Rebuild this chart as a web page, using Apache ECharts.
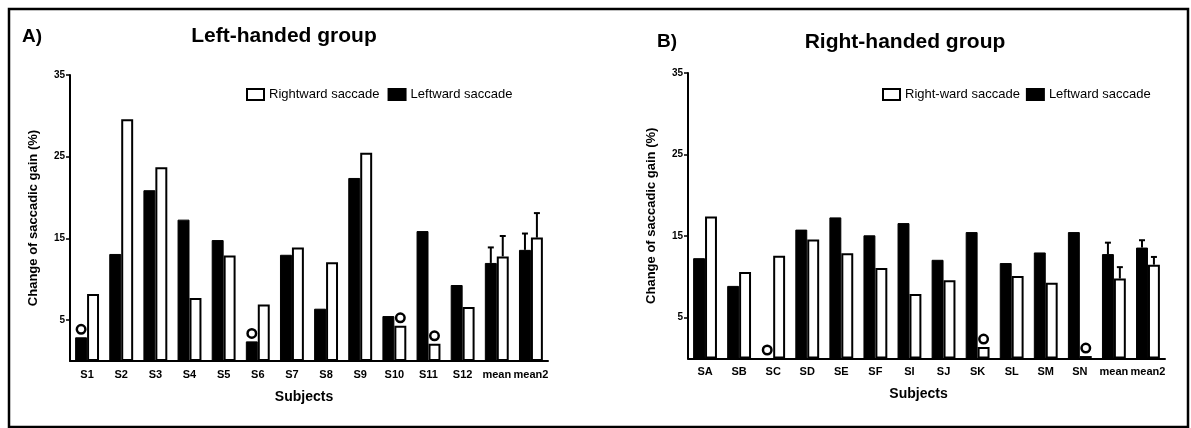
<!DOCTYPE html>
<html>
<head>
<meta charset="utf-8">
<script src="https://cdn.jsdelivr.net/npm/echarts@6/dist/echarts.min.js"></script>
<style>
html,body{margin:0;padding:0;background:#fff;}
#c{width:1191px;height:428px;}
</style>
</head>
<body>
<div id="c"></div>
<script>
// ---- Data ----
const leftCategories = ['S1','S2','S3','S4','S5','S6','S7','S8','S9','S10','S11','S12','mean','mean2'];
const leftRightward = [8.2, 29.6, 23.7, 7.7, 12.9, 6.9, 13.9, 12.1, 25.5, 4.3, 2.1, 6.6, 12.8, 15.1];
const leftLeftward  = [2.9, 13.1, 20.9, 17.3, 14.8, 2.4, 13.0, 6.4, 22.4, 5.5, 15.9, 9.3, 12.0, 13.6];
const leftErrRightward = {mean: 2.5, mean2: 3.0};
const leftErrLeftward  = {mean: 1.9, mean2: 2.0};
const leftOutlierLeftward  = ['S1','S6'];
const leftOutlierRightward = ['S10','S11'];

const rightCategories = ['SA','SB','SC','SD','SE','SF','SI','SJ','SK','SL','SM','SN','mean','mean2'];
const rightRightward = [17.4, 10.6, 12.6, 14.6, 12.9, 11.1, 7.9, 9.6, 1.4, 10.1, 9.3, 0.3, 9.8, 11.5];
const rightLeftward  = [12.3, 8.9, 0, 15.8, 17.3, 15.1, 16.6, 12.1, 15.5, 11.7, 13.0, 15.5, 12.8, 13.6];
const rightErrRightward = {mean: 1.4, mean2: 0.95};
const rightErrLeftward  = {mean: 1.4, mean2: 0.9};
const rightOutlierLeftward  = ['SC'];
const rightOutlierRightward = ['SK','SN'];

const yTicks = [5, 15, 25, 35];
const FONT = "'Liberation Sans', Arial, sans-serif";

// ---- Helpers ----
function withOutliers(cats, vals, marks) {
  return vals.map((v, i) => marks.includes(cats[i])
    ? {value: v, label: {show: true, position: 'top', distance: 5, formatter: '',
        width: 6, height: 6, padding: 0, borderRadius: 6,
        borderColor: '#000', borderWidth: 2.5, backgroundColor: '#fff'}}
    : v);
}
function errData(cats, vals, errs) {
  return Object.keys(errs).map(k => {
    const i = cats.indexOf(k);
    return [i, vals[i], vals[i] + errs[k]];
  });
}
function errSeries(idx, data, side) {
  return {
    type: 'custom', xAxisIndex: idx, yAxisIndex: idx, z: 5, silent: true,
    data: data,
    renderItem: function (params, api) {
      const w = api.size([1, 0])[0];
      const off = side * w * 0.175;
      const base = api.coord([api.value(0), api.value(1)]);
      const top = api.coord([api.value(0), api.value(2)]);
      const x = base[0] + off;
      return {
        type: 'group',
        children: [
          {type: 'line', shape: {x1: x, y1: base[1], x2: x, y2: top[1]}, style: {stroke: '#000', lineWidth: 2}},
          {type: 'line', shape: {x1: x - 3, y1: top[1], x2: x + 3, y2: top[1]}, style: {stroke: '#000', lineWidth: 2}}
        ]
      };
    }
  };
}
function xAxisCfg(idx, cats, padRight) {
  return {
    type: 'category', gridIndex: idx, data: cats,
    axisLine: {lineStyle: {color: '#000', width: 2}},
    axisTick: {alignWithLabel: true, length: 4, lineStyle: {color: '#000', width: 1.5}},
    axisLabel: {color: '#000', fontFamily: FONT, fontWeight: 'bold', fontSize: 11, margin: 8, interval: 0},
    name: 'Subjects', nameLocation: 'middle', nameGap: 29,
    nameTextStyle: {color: '#000', fontFamily: FONT, fontWeight: 'bold', fontSize: 14, padding: [0, padRight, 0, 0]}
  };
}
function yAxisCfg(idx) {
  return {
    type: 'value', gridIndex: idx, min: 0, max: 35,
    axisLine: {show: true, lineStyle: {color: '#000', width: 2}},
    axisTick: {show: true, length: 4, customValues: yTicks, lineStyle: {color: '#000', width: 1.5}},
    axisLabel: {customValues: yTicks, color: '#000', fontFamily: FONT, fontWeight: 'bold', fontSize: 10, margin: 5},
    splitLine: {show: false},
    name: 'Change of saccadic gain (%)', nameLocation: 'middle', nameGap: 30, nameRotate: 90,
    nameTextStyle: {color: '#000', fontFamily: FONT, fontWeight: 'bold', fontSize: 13}
  };
}
function barPair(idx, cats, leftVals, rightVals, leftMarks, rightMarks, rightName) {
  return [
    {name: 'Leftward saccade', type: 'bar', xAxisIndex: idx, yAxisIndex: idx,
     barGap: '0%', barCategoryGap: '30%',
     itemStyle: {color: '#000', borderColor: '#000', borderWidth: 1},
     data: withOutliers(cats, leftVals, leftMarks)},
    {name: rightName, type: 'bar', xAxisIndex: idx, yAxisIndex: idx,
     barGap: '0%', barCategoryGap: '30%',
     itemStyle: {color: '#fff', borderColor: '#000', borderWidth: 2},
     data: withOutliers(cats, rightVals, rightMarks)}
  ];
}

const chart = echarts.init(document.getElementById('c'), null, {renderer: 'canvas'});
const legendText = {color: '#000', fontFamily: FONT, fontSize: 13};
chart.setOption({
  animation: false,
  backgroundColor: '#fff',
  title: [
    {text: 'A)', left: 17, top: 22, textStyle: {fontFamily: FONT, fontWeight: 'bold', fontSize: 19, color: '#000'}},
    {text: 'Left-handed group', left: 279, textAlign: 'center', top: 21, textStyle: {fontFamily: FONT, fontWeight: 'bold', fontSize: 21, color: '#000'}},
    {text: 'B)', left: 652, top: 27, textStyle: {fontFamily: FONT, fontWeight: 'bold', fontSize: 19, color: '#000'}},
    {text: 'Right-handed group', left: 900, textAlign: 'center', top: 27, textStyle: {fontFamily: FONT, fontWeight: 'bold', fontSize: 21, color: '#000'}}
  ],
  legend: [
    {left: 241, top: 83, icon: 'rect', itemWidth: 17, itemHeight: 11, itemGap: 8, textStyle: legendText,
     data: ['Rightward saccade', 'Leftward saccade']},
    {left: 877, top: 83, icon: 'rect', itemWidth: 17, itemHeight: 11, itemGap: 6, textStyle: legendText,
     data: ['Right-ward saccade', 'Leftward saccade']}
  ],
  grid: [
    {left: 70, top: 75, width: 478, height: 286},
    {left: 688, top: 73, width: 477, height: 285.5}
  ],
  xAxis: [xAxisCfg(0, leftCategories, 10), xAxisCfg(1, rightCategories, 16)],
  yAxis: [yAxisCfg(0), yAxisCfg(1)],
  series: [
    ...barPair(0, leftCategories, leftLeftward, leftRightward, leftOutlierLeftward, leftOutlierRightward, 'Rightward saccade'),
    ...barPair(1, rightCategories, rightLeftward, rightRightward, rightOutlierLeftward, rightOutlierRightward, 'Right-ward saccade'),
    errSeries(0, errData(leftCategories, leftLeftward, leftErrLeftward), -1),
    errSeries(0, errData(leftCategories, leftRightward, leftErrRightward), 1),
    errSeries(1, errData(rightCategories, rightLeftward, rightErrLeftward), -1),
    errSeries(1, errData(rightCategories, rightRightward, rightErrRightward), 1)
  ],
  graphic: [
    {type: 'rect', silent: true, z: 100,
     shape: {x: 9, y: 9, width: 1179, height: 418},
     style: {fill: 'none', stroke: '#000', lineWidth: 2.5}}
  ]
});
</script>
</body>
</html>
